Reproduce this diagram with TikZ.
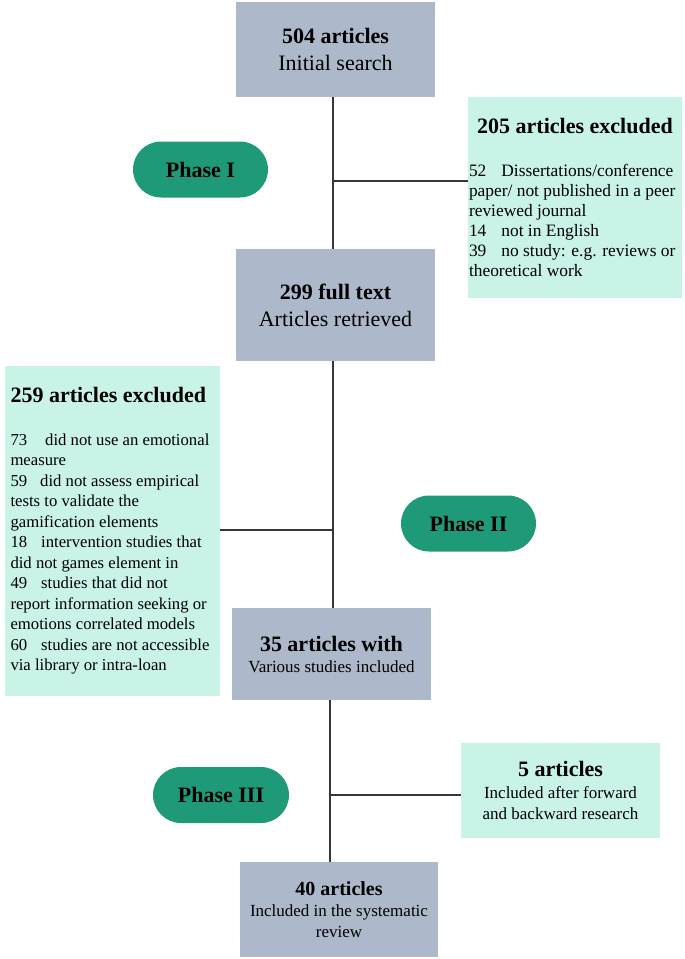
\documentclass[tikz,border=0pt]{standalone}
\usepackage{fontspec}
\setmainfont{Liberation Serif}
\definecolor{boxgray}{RGB}{173,185,202}
\definecolor{mint}{RGB}{200,243,230}
\definecolor{phasegreen}{RGB}{31,154,120}
\definecolor{linegray}{RGB}{55,55,55}
\newcommand{\tkbig}{\fontsize{22}{27}\selectfont\bfseries}
\newcommand{\tkreg}{\fontsize{22}{27}\selectfont}
\tikzset{
  mainbox/.style={fill=boxgray, draw=none, minimum width=199pt, align=center, inner sep=0pt},
  exbox/.style={fill=mint, draw=none, align=left, inner sep=0pt},
  phasepill/.style={fill=phasegreen, draw=none, rounded corners=28pt, minimum width=135pt,
    minimum height=56pt, inner sep=0pt, font=\fontsize{22}{26}\selectfont\bfseries},
  conn/.style={draw=linegray, line width=1.1pt}
}
\begin{document}
\begin{tikzpicture}[x=1pt,y=-1pt]
\useasboundingbox (0,0) rectangle (685,959);
% main boxes
\node[mainbox, minimum height=95pt, font=\tkreg] (b1) at (335.5,49.5)
  {{\tkbig 504 articles}\\Initial search};
\node[mainbox, minimum height=112pt, font=\tkreg] (b2) at (335.5,305)
  {{\tkbig 299 full text}\\Articles retrieved};
\node[mainbox, minimum height=92pt, font=\fontsize{17}{21}\selectfont] (b3) at (331.5,654)
  {{\fontsize{22}{21}\selectfont\bfseries 35 articles with}\\Various studies included};
\node[mainbox, minimum width=198pt, minimum height=95pt, font=\fontsize{17}{20.5}\selectfont] (b4) at (339,909.5)
  {\raisebox{0pt}[0pt][0pt]{}{\fontsize{20}{21}\selectfont\bfseries 40 articles}\\[1pt]Included in the systematic\\review};
% exclusion / inclusion boxes
\node[exbox, minimum width=214pt, minimum height=201pt,
      font=\fontsize{17.4}{20}\selectfont] (ex1) at (575,197.5)
  {\makebox[212pt][c]{\tkbig 205 articles excluded}\\[23pt]
   52\hspace{15pt}Dissertations/conference\\
   paper/ not published in a peer\\
   reviewed journal\\
   14\hspace{15pt}not in English\\
   39\hspace{15pt}no study: e.g. reviews or\\
   theoretical work};
\node[exbox, minimum width=215pt, minimum height=330pt,
      font=\fontsize{16.7}{20.5}\selectfont] (ex2) at (112.5,531)
  {\makebox[204pt][l]{\tkbig 259 articles excluded}\\[22pt]
   73\hspace{18pt}did not use an emotional\\
   measure\\
   59\hspace{13pt}did not assess empirical\\
   tests to validate the\\
   gamification elements\\
   18\hspace{14pt}intervention studies that\\
   did not games element in\\
   49\hspace{14pt}studies that did not\\
   report information seeking or\\
   emotions correlated models\\
   60\hspace{14pt}studies are not accessible\\
   via library or intra-loan};
\node[exbox, align=center, minimum width=199pt, minimum height=95pt,
      font=\fontsize{17}{21}\selectfont] (ex3) at (560.5,790.5)
  {{\fontsize{22}{21}\selectfont\bfseries 5 articles}\\[1pt]Included after forward\\and backward research};
% phase pills
\node[phasepill] (p1) at (200.5,169.5) {Phase I};
\node[phasepill] (p2) at (468.5,523.5) {Phase II};
\node[phasepill, minimum width=136pt] (p3) at (221,795) {Phase III};
% junctions
\coordinate (j1) at (333,181);
\coordinate (j2) at (333,530);
\coordinate (j3) at (330,795);
% connectors
\draw[conn] (j1 |- b1.south) -- (j1 |- b2.north);
\draw[conn] (j1) -- (j1 -| ex1.west);
\draw[conn] (j2 |- b2.south) -- (j2 |- b3.north);
\draw[conn] (j2) -- (j2 -| ex2.east);
\draw[conn] (j3 |- b3.south) -- (j3 |- b4.north);
\draw[conn] (j3) -- (j3 -| ex3.west);
\end{tikzpicture}
\end{document}
